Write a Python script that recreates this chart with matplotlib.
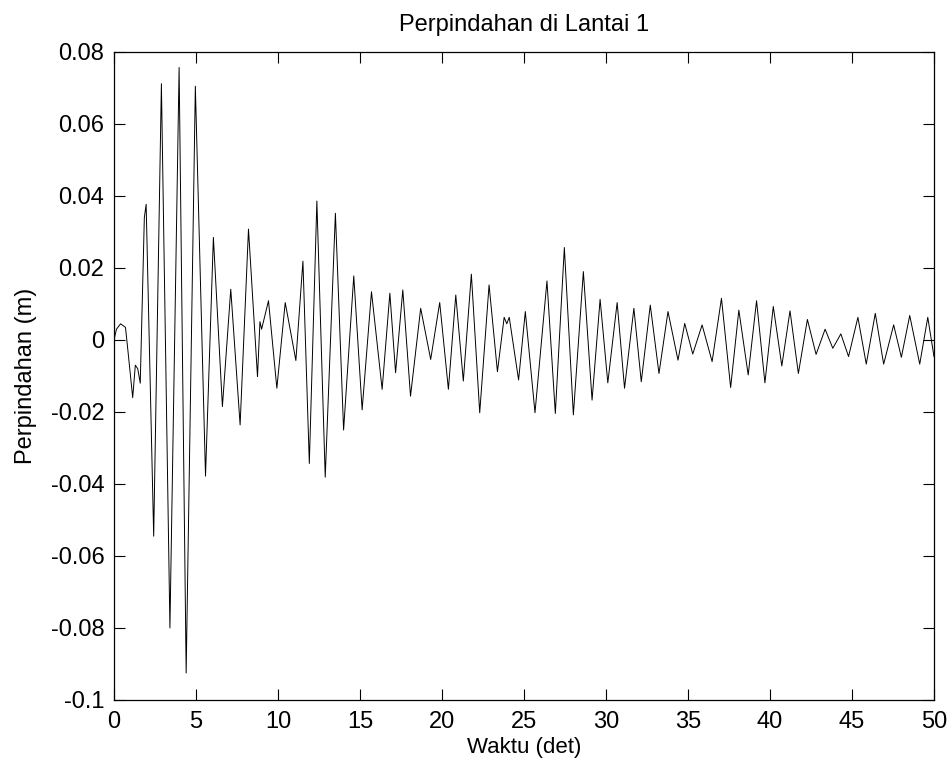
import matplotlib
matplotlib.use("Agg")
import matplotlib.pyplot as plt

# turning points of the displacement record (time in s, displacement in m)
waktu = [0.00, 0.15, 0.40, 0.70, 0.85, 1.14, 1.30, 1.45, 1.60, 1.85, 1.96,
         2.42, 2.89, 3.41, 3.97, 4.40, 4.96, 5.58, 6.06, 6.61, 7.12, 7.69,
         8.20, 8.75, 8.90, 9.00, 9.42, 9.93, 10.44, 11.09, 11.52, 11.91,
         12.37, 12.88, 13.50, 14.00, 14.62, 15.13, 15.70, 16.35, 16.82,
         17.17, 17.61, 18.08, 18.70, 19.31, 19.86, 20.39, 20.84, 21.30,
         21.79, 22.30, 22.87, 23.38, 23.79, 23.95, 24.10, 24.67, 25.08,
         25.67, 26.40, 26.91, 27.46, 28.01, 28.62, 29.15, 29.64, 30.11,
         30.68, 31.13, 31.70, 32.15, 32.70, 33.23, 33.78, 34.39, 34.80,
         35.29, 35.86, 36.47, 37.04, 37.60, 38.10, 38.67, 39.18, 39.69,
         40.20, 40.72, 41.22, 41.73, 42.28, 42.81, 43.36, 43.83, 44.32,
         44.79, 45.36, 45.87, 46.42, 46.93, 47.54, 48.01, 48.52, 49.13,
         49.62, 50.00]
perpindahan = [0.0000, 0.0030, 0.0045, 0.0035, -0.0030, -0.0160, -0.0070,
               -0.0080, -0.0120, 0.0340, 0.0377, -0.0545, 0.0712, -0.0800,
               0.0757, -0.0925, 0.0705, -0.0378, 0.0285, -0.0185, 0.0141,
               -0.0236, 0.0308, -0.0102, 0.0051, 0.0030, 0.0109, -0.0134,
               0.0104, -0.0057, 0.0219, -0.0343, 0.0386, -0.0381, 0.0352,
               -0.0250, 0.0178, -0.0194, 0.0134, -0.0137, 0.0130, -0.0091,
               0.0139, -0.0156, 0.0088, -0.0054, 0.0104, -0.0137, 0.0125,
               -0.0114, 0.0183, -0.0202, 0.0153, -0.0088, 0.0063, 0.0045,
               0.0063, -0.0111, 0.0079, -0.0202, 0.0164, -0.0204, 0.0257,
               -0.0208, 0.0190, -0.0167, 0.0113, -0.0119, 0.0104, -0.0134,
               0.0088, -0.0116, 0.0097, -0.0093, 0.0079, -0.0056, 0.0046,
               -0.0039, 0.0042, -0.0060, 0.0116, -0.0132, 0.0083, -0.0097,
               0.0109, -0.0119, 0.0093, -0.0072, 0.0081, -0.0093, 0.0057,
               -0.0040, 0.0030, -0.0023, 0.0017, -0.0046, 0.0063, -0.0067,
               0.0074, -0.0067, 0.0042, -0.0048, 0.0068, -0.0067, 0.0063,
               -0.0046]

xticks = [0, 5, 10, 15, 20, 25, 30, 35, 40, 45, 50]
yticks = [-0.1, -0.08, -0.06, -0.04, -0.02, 0, 0.02, 0.04, 0.06, 0.08]
ytick_labels = ['-0.1', '-0.08', '-0.06', '-0.04', '-0.02', '0',
                '0.02', '0.04', '0.06', '0.08']

plt.rcParams['font.family'] = ['Liberation Sans', 'DejaVu Sans']

fig = plt.figure(figsize=(9.51, 7.66), dpi=100)
ax = fig.add_axes([114 / 951, 1 - 700 / 766, 820 / 951, 648 / 766])

ax.plot(waktu, perpindahan, color='black', linewidth=0.7)

ax.set_xlim(0, 50)
ax.set_ylim(-0.1, 0.08)
ax.set_xticks(xticks)
ax.set_xticklabels([str(t) for t in xticks])
ax.set_yticks(yticks)
ax.set_yticklabels(ytick_labels)
ax.tick_params(direction='in', length=8, width=0.8, top=True, right=True,
               labelsize=17)
ax.tick_params(axis='x', pad=8)
ax.tick_params(axis='y', pad=7)
for s in ax.spines.values():
    s.set_linewidth(0.9)

ax.set_title('Perpindahan di Lantai 1', fontsize=17, pad=15)
ax.set_xlabel('Waktu (det)', fontsize=16, labelpad=3)
ax.set_ylabel('Perpindahan (m)', fontsize=17, labelpad=10)

fig.savefig('out.png', dpi=100)
